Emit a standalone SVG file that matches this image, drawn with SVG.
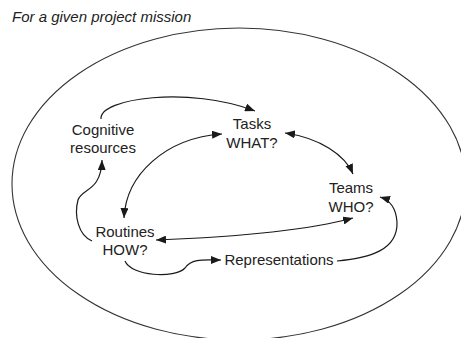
<svg xmlns="http://www.w3.org/2000/svg" width="461" height="338" viewBox="0 0 461 338">
  <defs>
    <marker id="head" viewBox="0 0 10 8" refX="10" refY="4" markerWidth="10" markerHeight="8" markerUnits="userSpaceOnUse" orient="auto-start-reverse">
      <path d="M0,0 L10,4 L0,8 Z" fill="#1a1a1a"/>
    </marker>
    <style>
      text { font-family: "Liberation Sans", Arial, sans-serif; font-size: 15px; fill: #222; }
      .label { text-anchor: middle; }
      .title { font-style: italic; }
      .link { fill: none; stroke: #1a1a1a; stroke-width: 1.2; }
      .boundary { fill: none; stroke: #333; stroke-width: 1.1; }
    </style>
  </defs>
  <rect width="461" height="338" fill="#fff"/>

  <text class="title" x="12" y="22">For a given project mission</text>
  <ellipse class="boundary" cx="239" cy="184" rx="227" ry="156"/>

  <g id="connectors">
    <!-- Cognitive resources -> Tasks -->
    <path class="link" d="M101,119 C99,98 190,86 255,111" marker-end="url(#head)"/>
    <!-- Routines <-> Tasks -->
    <path class="link" d="M124,218 C126,175 165,138 222,134" marker-start="url(#head)" marker-end="url(#head)"/>
    <!-- Tasks <-> Teams -->
    <path class="link" d="M285,133 C320,138 345,155 353,174" marker-start="url(#head)" marker-end="url(#head)"/>
    <!-- Routines <-> Teams -->
    <path class="link" d="M156,240 Q290,235 353,218" marker-start="url(#head)" marker-end="url(#head)"/>
    <!-- Routines -> Cognitive resources -->
    <path class="link" d="M92,241 C78,235 74,215 78,200 C82,188 101,192 102,160" marker-end="url(#head)"/>
    <!-- Routines -> Representations -->
    <path class="link" d="M125,261 C131,276 175,279 185,268 C192,258 205,260 221,260" marker-end="url(#head)"/>
    <!-- Representations -> Teams -->
    <path class="link" d="M337,261 C370,258 398,250 397,222 C396,208 390,200 380,197" marker-end="url(#head)"/>
  </g>

  <g id="cognitive">
    <text class="label" x="103" y="135">Cognitive</text>
    <text class="label" x="103" y="153">resources</text>
  </g>
  <g id="tasks">
    <text class="label" x="252" y="129">Tasks</text>
    <text class="label" x="252" y="148">WHAT?</text>
  </g>
  <g id="teams">
    <text class="label" x="351" y="193">Teams</text>
    <text class="label" x="351" y="212">WHO?</text>
  </g>
  <g id="routines">
    <text class="label" x="125" y="237">Routines</text>
    <text class="label" x="125" y="255">HOW?</text>
  </g>
  <g id="representations">
    <text class="label" x="279" y="265">Representations</text>
  </g>
</svg>
